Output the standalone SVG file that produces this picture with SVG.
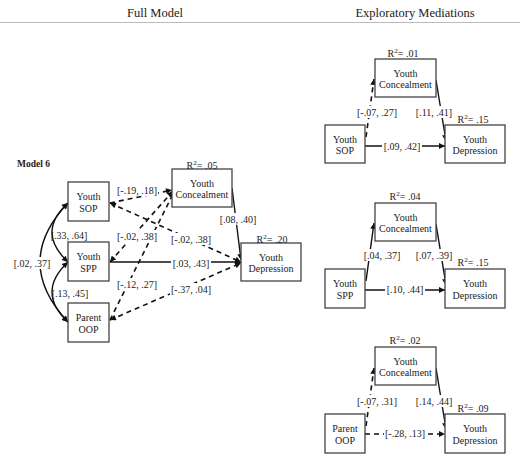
<svg xmlns="http://www.w3.org/2000/svg" width="520" height="471" viewBox="0 0 520 471">
<defs>
<style>
text{font-family:"Liberation Serif","Times New Roman",serif;fill:#222;}
.title{font-size:12.5px;text-anchor:middle;}
.model{font-size:9.5px;font-weight:bold;}
.nt{font-size:10px;text-anchor:middle;}
.lbl{font-size:10px;text-anchor:middle;}
.box{fill:#fff;stroke:#444;stroke-width:1.3;}
.bg{fill:#fff;}
.solid{fill:none;stroke:#111;stroke-width:1.4;}
.dash{fill:none;stroke:#111;stroke-width:1.6;stroke-dasharray:5,4;}
.ae{marker-end:url(#ah);}
.as{marker-start:url(#ah);}
</style>
<marker id="ah" viewBox="0 0 10 10" refX="10" refY="5" markerWidth="7" markerHeight="6" markerUnits="userSpaceOnUse" orient="auto-start-reverse">
<path d="M0,0 L10,5 L0,10 z" fill="#111"/>
</marker>
</defs>
<rect width="520" height="471" fill="#fff"/>
<g id="header">
<text class="title" x="155" y="17">Full Model</text>
<text class="title" x="415" y="17">Exploratory Mediations</text>
<line x1="0" y1="22.5" x2="520" y2="22.5" stroke="#bbb" stroke-width="1"/>
<text class="model" x="17" y="167">Model 6</text>
</g>
<g id="connectors">
<path class="solid ae as" d="M68,203 Q12,262 68,322"/>
<path class="solid ae as" d="M68,203 Q36,232 68,262"/>
<path class="solid ae as" d="M68,262 Q36,292 68,322"/>
<path class="dash ae" d="M110,203 L172,190"/>
<path class="dash ae as" d="M110,203 L241,262"/>
<path class="dash ae as" d="M110,262 L173,191"/>
<path class="dash ae" d="M110,320 L174,192"/>
<path class="dash ae as" d="M110,320 L241,263"/>
<path class="solid ae" d="M110,262 L241,262"/>
<path class="solid ae" d="M232,188 L241,260"/>
<path class="dash ae" d="M366,137 L374,79"/>
<path class="solid ae" d="M365,146 L445,146"/>
<path class="solid ae" d="M436,80 L446,141"/>
<path class="solid ae" d="M366,281 L374,223"/>
<path class="solid ae" d="M365,290 L445,290"/>
<path class="solid ae" d="M436,224 L446,285"/>
<path class="dash ae" d="M366,426 L374,368"/>
<path class="dash ae" d="M365,434 L445,434"/>
<path class="solid ae" d="M436,368 L446,429"/>
</g>
<g id="labels">
<rect class="bg" x="13" y="257" width="38" height="12"/><text class="lbl" x="32" y="266.5">[.02, .37]</text>
<text class="lbl" x="69" y="238.5">[.33, .64]</text>
<text class="lbl" x="70" y="296.5">[.13, .45]</text>
<rect class="bg" x="116" y="184" width="42" height="12"/><text class="lbl" x="137" y="193.5">[-.19, .18]</text>
<rect class="bg" x="116" y="230" width="42" height="12"/><text class="lbl" x="137" y="239.5">[-.02, .38]</text>
<rect class="bg" x="116" y="278" width="42" height="12"/><text class="lbl" x="137" y="287.5">[-.12, .27]</text>
<rect class="bg" x="170" y="233" width="42" height="12"/><text class="lbl" x="191" y="242.5">[-.02, .38]</text>
<rect class="bg" x="171" y="257" width="40" height="12"/><text class="lbl" x="191" y="266.5">[.03, .43]</text>
<rect class="bg" x="170" y="283" width="42" height="12"/><text class="lbl" x="191" y="292.5">[-.37, .04]</text>
<rect class="bg" x="219" y="213" width="38" height="12"/><text class="lbl" x="238" y="222.5">[.08, .40]</text>
<rect class="bg" x="356" y="106" width="42" height="12"/><text class="lbl" x="377" y="115.5">[-.07, .27]</text>
<rect class="bg" x="415" y="106" width="38" height="12"/><text class="lbl" x="434" y="115.5">[.11, .41]</text>
<rect class="bg" x="382" y="140" width="40" height="12"/><text class="lbl" x="402" y="149.5">[.09, .42]</text>
<rect class="bg" x="363" y="249" width="38" height="12"/><text class="lbl" x="382" y="258.5">[.04, .37]</text>
<rect class="bg" x="415" y="249" width="38" height="12"/><text class="lbl" x="434" y="258.5">[.07, .39]</text>
<rect class="bg" x="385" y="283" width="40" height="12"/><text class="lbl" x="405" y="292.5">[.10, .44]</text>
<rect class="bg" x="356" y="395" width="42" height="12"/><text class="lbl" x="377" y="404.5">[-.07, .31]</text>
<rect class="bg" x="415" y="395" width="38" height="12"/><text class="lbl" x="434" y="404.5">[.14, .44]</text>
<rect class="bg" x="384" y="427" width="42" height="12"/><text class="lbl" x="405" y="436.5">[-.28, .13]</text>
</g>
<g id="fm-sop"><rect class="box" x="68" y="182" width="41" height="39"/><text class="nt" x="88.5" y="200">Youth</text><text class="nt" x="88.5" y="211.5">SOP</text></g>
<g id="fm-spp"><rect class="box" x="68" y="242" width="41" height="39"/><text class="nt" x="88.5" y="260">Youth</text><text class="nt" x="88.5" y="271.5">SPP</text></g>
<g id="fm-oop"><rect class="box" x="68" y="303" width="41" height="39"/><text class="nt" x="88.5" y="321">Parent</text><text class="nt" x="88.5" y="332.5">OOP</text></g>
<g id="fm-conc"><rect class="box" x="172" y="169" width="60" height="38"/><text class="nt" x="202" y="186.5">Youth</text><text class="nt" x="202" y="198">Concealment</text>
<text class="lbl" x="202" y="168.5">R<tspan font-size="7" dy="-4">2</tspan><tspan dy="4">= .05</tspan></text></g>
<g id="fm-dep"><rect class="box" x="241" y="243" width="60" height="38"/><text class="nt" x="271" y="260.5">Youth</text><text class="nt" x="271" y="272">Depression</text>
<text class="lbl" x="272" y="242.5">R<tspan font-size="7" dy="-4">2</tspan><tspan dy="4">= .20</tspan></text></g>
<g id="p1-conc"><rect class="box" x="375" y="59" width="61" height="38"/><text class="nt" x="405.5" y="76.5">Youth</text><text class="nt" x="405.5" y="88">Concealment</text>
<text class="lbl" x="403" y="56.5">R<tspan font-size="7" dy="-4">2</tspan><tspan dy="4">= .01</tspan></text></g>
<g id="p1-sop"><rect class="box" x="325" y="125" width="40" height="38"/><text class="nt" x="345" y="142.5">Youth</text><text class="nt" x="345" y="154">SOP</text></g>
<g id="p1-dep"><rect class="box" x="445" y="125" width="60" height="38"/><text class="nt" x="475" y="142.5">Youth</text><text class="nt" x="475" y="154">Depression</text>
<text class="lbl" x="473" y="122.5">R<tspan font-size="7" dy="-4">2</tspan><tspan dy="4">= .15</tspan></text></g>
<g id="p2-conc"><rect class="box" x="375" y="203" width="61" height="38"/><text class="nt" x="405.5" y="220.5">Youth</text><text class="nt" x="405.5" y="232">Concealment</text>
<text class="lbl" x="405" y="199.5">R<tspan font-size="7" dy="-4">2</tspan><tspan dy="4">= .04</tspan></text></g>
<g id="p2-spp"><rect class="box" x="325" y="269" width="40" height="39"/><text class="nt" x="345" y="287">Youth</text><text class="nt" x="345" y="298.5">SPP</text></g>
<g id="p2-dep"><rect class="box" x="445" y="269" width="60" height="39"/><text class="nt" x="475" y="287">Youth</text><text class="nt" x="475" y="298.5">Depression</text>
<text class="lbl" x="473" y="265.5">R<tspan font-size="7" dy="-4">2</tspan><tspan dy="4">= .15</tspan></text></g>
<g id="p3-conc"><rect class="box" x="375" y="347" width="61" height="38"/><text class="nt" x="405.5" y="364.5">Youth</text><text class="nt" x="405.5" y="376">Concealment</text>
<text class="lbl" x="405" y="343.5">R<tspan font-size="7" dy="-4">2</tspan><tspan dy="4">= .02</tspan></text></g>
<g id="p3-oop"><rect class="box" x="325" y="414" width="40" height="39"/><text class="nt" x="345" y="432">Parent</text><text class="nt" x="345" y="443.5">OOP</text></g>
<g id="p3-dep"><rect class="box" x="445" y="414" width="60" height="39"/><text class="nt" x="475" y="432">Youth</text><text class="nt" x="475" y="443.5">Depression</text>
<text class="lbl" x="473" y="411.5">R<tspan font-size="7" dy="-4">2</tspan><tspan dy="4">= .09</tspan></text></g>
</svg>
